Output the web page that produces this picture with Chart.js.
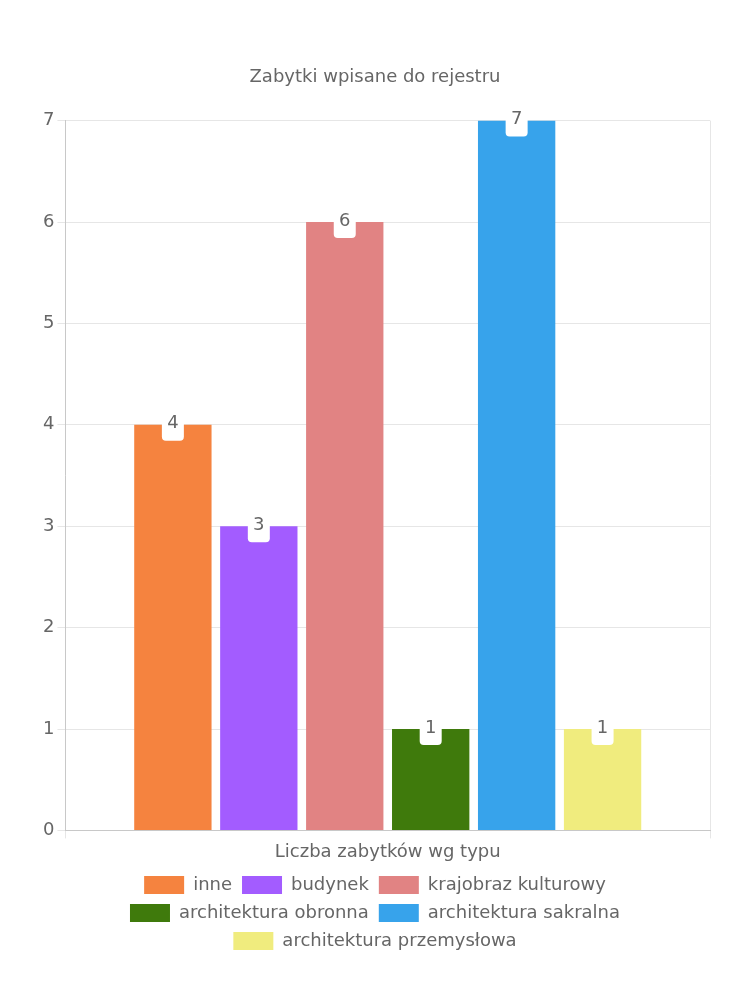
<!DOCTYPE html>
<html>
<head>
<meta charset="utf-8">
<script src="https://cdn.jsdelivr.net/npm/chart.js@4"></script>
<style>
  html, body { margin: 0; padding: 0; background: #fff; }
  #wrap { width: 750px; height: 1000px; }
</style>
</head>
<body>
<div id="wrap"><canvas id="myChart"></canvas></div>
<script>
// dane
const categories = ['Liczba zabytków wg typu'];
const seriesNames = ['inne', 'budynek', 'krajobraz kulturowy', 'architektura obronna', 'architektura sakralna', 'architektura przemysłowa'];
const seriesValues = [4, 3, 6, 1, 7, 1];
const seriesColors = ['#f5833f', '#a35cff', '#e18383', '#3f7a0c', '#37a3eb', '#f0ec7e'];
const yTicks = [0, 1, 2, 3, 4, 5, 6, 7];

const FONT = 'DejaVu Sans';
Chart.defaults.font.family = FONT;
Chart.defaults.font.size = 18;
Chart.defaults.color = '#666';

// etykiety nad slupkami (biale pudelko)
const barLabels = {
  id: 'barLabels',
  afterDatasetsDraw(chart) {
    const ctx = chart.ctx;
    chart.data.datasets.forEach(function(ds, i) {
      const meta = chart.getDatasetMeta(i);
      if (meta.hidden) return;
      meta.data.forEach(function(bar, j) {
        ctx.save();
        ctx.fillStyle = '#fff';
        ctx.beginPath();
        ctx.roundRect(bar.x - 11, bar.y - 16, 22, 32, 4);
        ctx.fill();
        ctx.fillStyle = '#666';
        ctx.font = '18px ' + FONT;
        ctx.textAlign = 'center';
        ctx.textBaseline = 'middle';
        ctx.fillText(String(ds.data[j]), bar.x, bar.y - 1);
        ctx.restore();
      });
    });
  }
};

const datasets = seriesNames.map(function(name, i) {
  return {
    label: name,
    data: [seriesValues[i]],
    backgroundColor: seriesColors[i],
    borderWidth: 0
  };
});

const config = {
  type: 'bar',
  data: { labels: categories, datasets: datasets },
  options: {
    responsive: true,
    maintainAspectRatio: false,
    animation: false,
    layout: { padding: { top: 57, left: 40, right: 40, bottom: 40 } },
    plugins: {
      title: {
        display: true,
        text: 'Zabytki wpisane do rejestru',
        font: { size: 18, weight: 'normal' },
        color: '#666',
        padding: { top: 10, bottom: 32 }
      },
      legend: {
        position: 'bottom',
        labels: { boxWidth: 40, boxHeight: 18, padding: 10, color: '#666' }
      },
      tooltip: { enabled: false }
    },
    scales: {
      x: {
        grid: { color: '#e6e6e6' },
        border: { color: '#c8c8c8' },
        ticks: { color: '#666' }
      },
      y: {
        min: 0,
        max: 7,
        afterBuildTicks: function(axis) {
          axis.ticks = yTicks.map(function(v) { return { value: v }; });
        },
        grid: { color: '#e6e6e6' },
        border: { color: '#c8c8c8' },
        ticks: { color: '#666' }
      }
    }
  },
  plugins: [barLabels]
};

const myChart = new Chart(document.getElementById('myChart'), config);
</script>
</body>
</html>
